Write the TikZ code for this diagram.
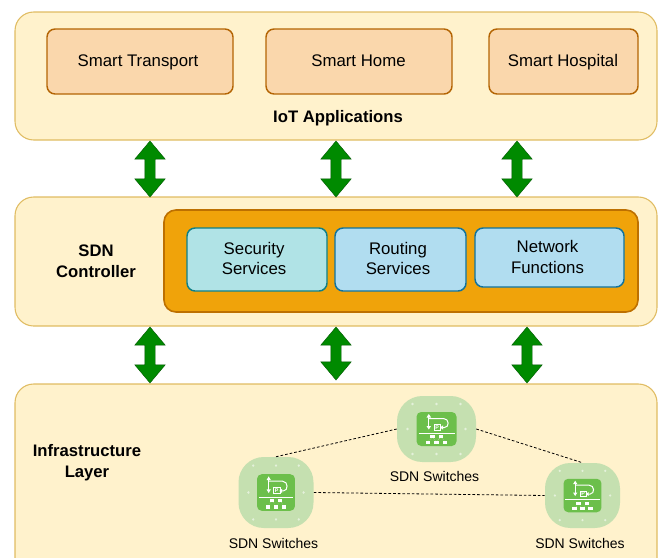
\documentclass[tikz,border=0pt]{standalone}
\usepackage{fontspec}
\setmainfont{Liberation Sans}
\usetikzlibrary{shapes.arrows}
\definecolor{layerfill}{HTML}{FFF2CC}
\definecolor{layerline}{HTML}{E0BC62}
\definecolor{appfill}{HTML}{FAD7AC}
\definecolor{appline}{HTML}{B46504}
\definecolor{orfill}{HTML}{F0A30A}
\definecolor{orline}{HTML}{BD7000}
\definecolor{secfill}{HTML}{B0E3E6}
\definecolor{secline}{HTML}{0E8088}
\definecolor{rtfill}{HTML}{B1DDF0}
\definecolor{rtline}{HTML}{10739E}
\definecolor{arrowgreen}{HTML}{008A00}
\definecolor{arrowline}{HTML}{005700}
\definecolor{halo}{HTML}{C5E0B0}
\definecolor{iconbox}{HTML}{6CBF4B}
\tikzset{
  sz/.style 2 args={minimum width=#1*0.75pt,minimum height=#2*0.75pt,inner sep=0pt,align=center},
  layerbox/.style={draw=layerline,fill=layerfill,rounded corners=14pt,line width=0.8pt},
  appbox/.style={draw=appline,fill=appfill,rounded corners=6pt,line width=1.1pt},
  corebox/.style={draw=orline,fill=orfill,rounded corners=9pt,line width=1.2pt},
  secbox/.style={draw=secline,fill=secfill,rounded corners=6pt,line width=1.1pt},
  rtbox/.style={draw=rtline,fill=rtfill,rounded corners=6pt,line width=1.1pt},
  updown/.style={shape=double arrow,rotate=90,draw=arrowline,fill=arrowgreen,line width=0.3pt,
    minimum width=30*0.75pt,inner sep=5*0.75pt,double arrow head extend=10*0.75pt,
    double arrow tip angle=80},
  txt/.style={font=\fontsize{12.6}{15.5}\selectfont,align=center,inner sep=0pt},
  blabel/.style={font=\fontsize{12.5}{15.7}\selectfont\bfseries,align=center},
  slabel/.style={font=\fontsize{10.5}{13}\selectfont},
  halobox/.style={fill=halo,rounded corners=19pt,inner sep=0pt},
  link/.style={draw=black,line width=0.6pt,dash pattern=on 2pt off 1.5pt},
  haldot/.style={fill=white,fill opacity=0.55},
  iconln/.style={draw=white,line width=0.75pt},
  iconmark/.style={fill=white}
}
% name, centre x, centre y, width, height
\newcommand{\swicon}[5]{%
  \node[halobox,sz={#4}{#5}] (#1) at (#2,#3) {};
  \begin{scope}[shift={(#2,#3)},xscale=#4/79,yscale=#5/66]
    \foreach \dx/\dy in {-24/-25,0/-25,24/-25,-29/0,29/0,-24/25,0/25,24/25}
      \fill[haldot] (\dx,\dy) circle[radius=1.3];
    \fill[iconbox,rounded corners=3.5pt] (-20,-17) rectangle (20,17);
    \draw[iconln] (-18,4.4) -- (18,4.4);
    \draw[iconln] (-7.7,-13.5) -- (-7.7,-0.8);
    \fill[iconmark] (-7.7,-15) -- (-10,-11.5) -- (-5.4,-11.5) -- cycle;
    \fill[iconmark] (-7.7,0.5) -- (-10,-3) -- (-5.4,-3) -- cycle;
    \draw[iconln] (-7.7,-10.5) -- (7,-10.5) .. controls (13,-10.5) and (13,-1.5) .. (8,-1.5) -- (6,-1.5);
    \fill[iconmark] (3.5,-1.5) -- (6.5,-3.6) -- (6.5,0.6) -- cycle;
    \draw[white,line width=0.4pt] (-2.7,-4.6) rectangle (4,1);
    \node[text=white,font=\fontsize{4}{4}\selectfont\bfseries,inner sep=0pt] at (0.7,-1.8) {P};
    \draw[white,line width=0.25pt,densely dotted] (-4.2,8) -- (-8.5,13) (-4.2,8) -- (0,13) (4.4,8) -- (0,13) (4.4,8) -- (8.5,13);
    \foreach \bx/\by in {-4.2/7.7,4.4/7.7,-8.5/13.4,0/13.4,8.5/13.4}
      \fill[iconmark] (\bx-2.3,\by-1.5) rectangle (\bx+2.3,\by+1.5);
  \end{scope}}
\begin{document}
\begin{tikzpicture}[x=0.75pt,y=-0.75pt]
\useasboundingbox (0,0) rectangle (663,557);
\clip (0,0) rectangle (663,557);
% layers
\node[layerbox,sz={642}{128}] (apps) at (336,76) {};
\node[layerbox,sz={642}{129}] (ctrl) at (336,261.5) {};
\node[layerbox,sz={642}{220}] (infra) at (336,494) {};
% application boxes
\node[appbox,sz={186}{65},label={[txt,xshift=-1.5pt,yshift=-0.7pt]center:Smart Transport}] (transport) at (140,61.5) {};
\node[appbox,sz={186}{65},label={[txt,xshift=-0.4pt,yshift=0.7pt]center:Smart Home}] (home) at (359,61.5) {};
\node[appbox,sz={149}{65},label={[txt,xshift=-0.4pt,yshift=-0.7pt]center:Smart Hospital}] (hospital) at (563.5,61.5) {};
\node[blabel] (appstitle) at (338,118.5) {IoT Applications};
% controller
\node[blabel] (ctrltitle) at (96,261.5) {SDN\\Controller};
\node[corebox,sz={474}{102}] (core) at (401,261) {};
\node[secbox,sz={140}{63},label={[txt,xshift=-2.2pt,yshift=0.7pt]center:Security\\Services}] (security) at (257,259.5) {};
\node[rtbox,sz={131}{63},label={[txt,xshift=-1.9pt,yshift=0.7pt]center:Routing\\Services}] (routing) at (400.5,259.5) {};
\node[rtbox,sz={149}{59},label={[txt,xshift=-1.5pt,yshift=0.3pt]center:Network\\Functions}] (network) at (549.5,257.5) {};
% arrows between the layers
\node[updown,minimum height=56*0.75pt] (a1) at (150,169) {};
\node[updown,minimum height=56*0.75pt] (a2) at (336,169) {};
\node[updown,minimum height=56*0.75pt] (a3) at (517,169) {};
\node[updown,minimum height=56*0.75pt] (b1) at (150,355) {};
\node[updown,minimum height=53*0.75pt] (b2) at (336,353.5) {};
\node[updown,minimum height=56*0.75pt] (b3) at (527,355) {};
% infrastructure
\node[blabel] (infratitle) at (87,463) {Infrastructure\\Layer};
\swicon{swtop}{436.5}{429}{79}{66}
\swicon{swleft}{276}{492.5}{75}{71}
\swicon{swright}{582.5}{495.5}{75}{65}
\draw[link] (swleft.north) -- (swtop.west);
\draw[link] (swtop.east) -- (swright.north);
\draw[link] (swleft.east) -- (swright.west);
\node[slabel] (ltop) at (434.5,476) {SDN Switches};
\node[slabel] (lleft) at (273.5,543) {SDN Switches};
\node[slabel] (lright) at (580,543) {SDN Switches};
\end{tikzpicture}
\end{document}
